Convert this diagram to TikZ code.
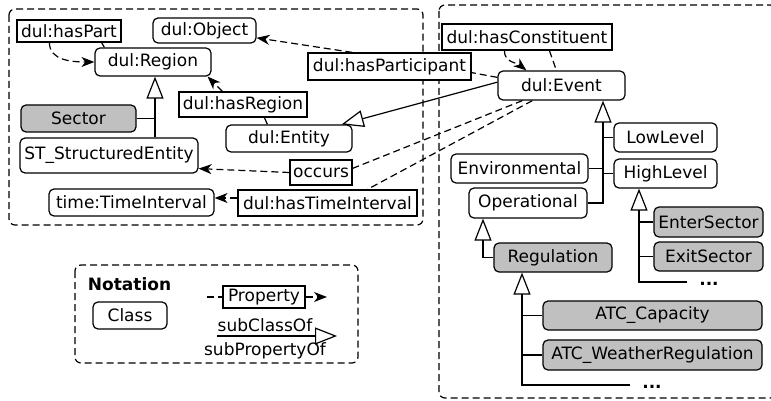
\documentclass[tikz,border=0pt]{standalone}
\usepackage{fontspec}
\setmainfont{DejaVu Sans}
\usetikzlibrary{arrows.meta,calc}
\definecolor{clsgray}{RGB}{192,192,192}

\begin{document}
\begin{tikzpicture}[x=1pt,y=-1pt,line width=1.2pt,
  font=\fontsize{17pt}{20pt}\selectfont,
  cls/.style 2 args={draw,fill=white,rounded corners=5pt,inner sep=0pt,
    minimum width=#1pt,minimum height=#2pt},
  clsg/.style 2 args={cls={#1}{#2},fill=clsgray},
  prp/.style 2 args={draw,fill=white,inner sep=0pt,
    minimum width=#1pt,minimum height=#2pt},
  rel/.style={dash pattern=on 7pt off 4pt},
  rela/.style={rel,-{Stealth[length=13pt,width=10pt,inset=4pt]}},
  gen/.style={-{Triangle[open,length=22pt,width=17pt]}},
  frame/.style={draw,dash pattern=on 7pt off 4pt,rounded corners=6pt},
  more/.style={font=\fontsize{17pt}{20pt}\selectfont\bfseries}]

\useasboundingbox (0,0) rectangle (771,401);

% package frames
\draw[frame] (9,9) rectangle (423,225);
\draw[frame] (439,5) rectangle (776,398);
\draw[frame] (75,265) rectangle (358,363);

% classes of the upper ontology
\node[cls={103}{25}]  (obj)  at (204.5,30.5) {dul:Object};
\node[cls={116}{28}]  (reg)  at (153,62)     {dul:Region};
\node[clsg={115}{27}] (sec)  at (78.5,118.5) {Sector};
\node[cls={178}{35}]  (ste)  at (109,155.5)  {ST\_StructuredEntity};
\node[cls={126}{27}]  (ent)  at (289,138.5)  {dul:Entity};
\node[cls={165}{27}]  (ti)   at (131.5,202.5){time:TimeInterval};

% event classes
\node[cls={127}{29}]  (ev)   at (561.5,85.5) {dul:Event};
\node[cls={103}{29}]  (low)  at (665.5,137.5){LowLevel};
\node[cls={103}{29}]  (high) at (665.5,173.5){HighLevel};
\node[cls={137}{29}]  (env)  at (519.5,168.5){Environmental};
\node[cls={118}{30}]  (op)   at (528,203)    {Operational};
\node[clsg={109}{30}] (ent2) at (708.5,222)  {EnterSector};
\node[clsg={109}{29}] (exit) at (708.5,256.5){ExitSector};
\node[clsg={118}{29}] (regu) at (553,257.5)  {Regulation};
\node[clsg={219}{29}] (cap)  at (652.5,315.5){ATC\_Capacity};
\node[clsg={219}{30}] (wr)   at (652.5,355)  {ATC\_WeatherRegulation};

% properties
\node[prp={104}{22}] (hp)  at (69,31)      {dul:hasPart};
\node[prp={128}{25}] (hr)  at (243,104.5)  {dul:hasRegion};
\node[prp={163}{27}] (hpa) at (389.5,66.5) {dul:hasParticipant};
\node[prp={170}{26}] (hc)  at (527,37)     {dul:hasConstituent};
\node[prp={62}{25}]  (oc)  at (321,172.5)  {occurs};
\node[prp={179}{26}] (hti) at (327.5,203)  {dul:hasTimeInterval};

% property links
\draw[rel] ($(reg.north west)+(10,0)$) -- ($(hp.south east)+(-20,0)$);
\draw[rela] ($(hp.south west)+(33,0)$) .. controls +(0,18) and +(-22,0) .. (reg.west);
\draw[rela] ($(hc.south west)+(63,0)$) .. controls +(0,12) and +(-10,-8) .. ($(ev.north west)+(29,0)$);
\draw[rel] ($(hc.south west)+(108,0)$) -- ($(ev.north west)+(59,0)$);
\draw[rel] ($(ev.north west)+(0,7)$) -- ($(hpa.south east)+(0,-8)$);
\draw[rela] ($(hpa.north west)+(45,0)$) -- (obj.-8);
\draw[rel] ($(ent.north west)+(42,0)$) -- ($(hr.south west)+(86,0)$);
\draw[rela] ($(hr.north west)+(44,0)$) -- ($(reg.south east)+(-4,0)$);
\draw[rel] ($(ev.south west)+(25,0)$) -- ($(oc.north east)+(0,9)$);
\draw[rela] (oc.west) -- ($(ste.south east)+(0,-5)$);
\draw[rel] ($(ev.south west)+(35,0)$) -- ($(hti.north west)+(130,0)$);
\draw[rela] ($(hti.west)+(0,-5)$) -- ($(ti.east)+(0,-4.5)$);

% subclass hierarchy: Region
\coordinate (rj) at (155,118.5);
\draw (sec.east) -- (rj);
\draw[gen] (ste.north -| rj) -- (reg.south -| rj);

% Event is an Entity
\draw[gen] (ev.177) -- (ent.15);

% subclass hierarchy: Event
\coordinate (ej) at (603,0);
\draw[gen] (op.east) -| (ev.south -| ej);
\draw (low.west) -- (low.west -| ej);
\draw (high.west) -- (high.west -| ej);
\draw (env.east) -- (env.east -| ej);

% subclass hierarchy: HighLevel
\coordinate (hj) at (639,282);
\coordinate (hend) at (687,282);
\draw[gen] (hend) -| (high.south -| hj);
\draw (ent2.west) -- (ent2.west -| hj);
\draw (exit.west) -- (exit.west -| hj);
\node[more] (hdots) at (709,284) {...};

% subclass hierarchy: Operational
\coordinate (oj) at (483,0);
\draw[gen] (regu.west) -| (op.south -| oj);

% subclass hierarchy: Regulation
\coordinate (gj) at (522,385);
\coordinate (gend) at (630,385);
\draw[gen] (gend) -| (regu.south -| gj);
\draw (cap.west) -- (cap.west -| gj);
\draw (wr.west) -- (wr.west -| gj);
\node[more] (gdots) at (652,387) {...};

% notation legend
\node[anchor=west,font=\fontsize{17pt}{20pt}\selectfont\bfseries] (nt) at (84,284) {Notation};
\node[cls={74}{27}] (clsx) at (130,315.5) {Class};
\node[prp={82}{22}] (prop) at (264,297) {Property};
\coordinate (pl) at (207,297);
\coordinate (pr) at (327,297);
\draw[rel] (pl) -- (prop.west);
\draw[rela] (prop.east) -- (pr);
\coordinate (g1) at (217,336);
\coordinate (g2) at (337,336);
\draw[gen] (g1) -- (g2);
\node (sco) at (265,325) {subClassOf};
\node (spo) at (265,351) {subPropertyOf};
\end{tikzpicture}
\end{document}
